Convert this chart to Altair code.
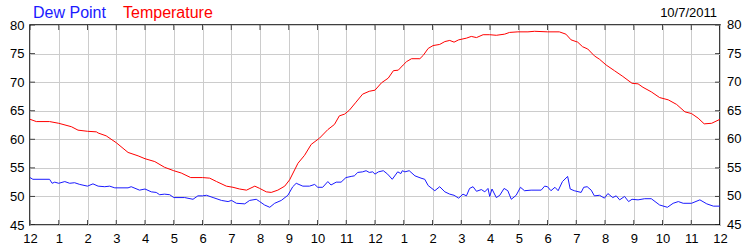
import altair as alt
import pandas as pd

# ---- data (hour of day, degrees F) ----
temp_hours = [0.0, 0.22, 0.68, 1.0, 1.44, 1.67, 2.0, 2.31, 2.37, 2.65, 3.0, 3.41, 3.76, 4.0, 4.34,
              4.68, 5.0, 5.26, 5.59, 6.0, 6.25, 6.49, 6.83, 7.06, 7.29, 7.53, 7.82, 7.99, 8.22,
              8.39, 8.62, 8.86, 9.03, 9.32, 9.55, 9.78, 10.07, 10.36, 10.59, 10.76, 10.94, 11.11,
              11.34, 11.57, 11.80, 12.0, 12.23, 12.46, 12.64, 12.81, 12.98, 13.10, 13.27, 13.56,
              13.68, 13.85, 14.02, 14.25, 14.43, 14.60, 14.75, 14.91, 15.18, 15.35, 15.53, 15.76,
              15.99, 16.22, 16.51, 16.68, 16.97, 17.32, 17.55, 18.0, 18.41, 18.64, 18.82, 19.05,
              19.22, 19.40, 19.63, 19.81, 20.04, 20.33, 20.62, 20.94, 21.15, 21.32, 21.61, 21.90,
              22.20, 22.49, 22.78, 23.01, 23.24, 23.45, 23.71, 24.0]
temp_values = [63.5, 63.1, 63.1, 62.8, 62.2, 61.6, 61.4, 61.3, 61.1, 60.6, 59.4, 57.7, 57.1, 56.6, 56.1,
               55.1, 54.5, 54.1, 53.3, 53.3, 53.2, 52.6, 51.8, 51.6, 51.3, 51.1, 51.8, 51.4, 50.8,
               50.7, 51.1, 51.8, 52.9, 55.8, 57.2, 59.1, 60.2, 61.7, 62.6, 64.1, 64.4, 65.1,
               66.5, 67.9, 68.4, 68.6, 69.9, 70.7, 72.0, 72.1, 73.0, 73.6, 74.1, 74.1,
               74.7, 75.9, 76.4, 76.6, 77.1, 77.3, 77.0, 77.4, 77.7, 78.0, 77.8, 78.3,
               78.3, 78.2, 78.4, 78.7, 78.8, 78.8, 78.9, 78.8, 78.8, 78.4, 77.4, 77.0,
               76.2, 75.8, 74.6, 74.0, 73.0, 72.0, 71.0, 69.8, 69.7, 69.1, 68.3, 67.3,
               66.9, 66.1, 64.8, 64.5, 63.7, 62.7, 62.8, 63.5]

dew_hours = [0.0, 0.10, 0.68, 0.77, 0.86, 1.0, 1.21, 1.38, 1.55, 1.73, 2.0, 2.19, 2.37, 2.60, 2.77,
             2.95, 3.41, 3.52, 3.81, 4.0, 4.22, 4.39, 4.51, 4.68, 4.86, 5.0, 5.38, 5.67, 5.84, 6.0,
             6.14, 6.37, 6.66, 6.89, 7.01, 7.18, 7.47, 7.64, 7.87, 7.99, 8.16, 8.34, 8.51, 8.74,
             8.97, 9.14, 9.26, 9.49, 9.72, 9.90, 10.01, 10.18, 10.36, 10.47, 10.65, 10.82, 10.99,
             11.17, 11.28, 11.40, 11.57, 11.69, 11.80, 11.92, 12.0, 12.12, 12.29, 12.44, 12.60,
             12.79, 12.90, 12.95, 13.04, 13.19, 13.39, 13.60, 13.73, 13.85, 14.08, 14.25, 14.43,
             14.60, 14.75, 14.91, 15.06, 15.18, 15.29, 15.41, 15.53, 15.70, 15.82, 15.93, 15.99,
             16.07, 16.22, 16.34, 16.49, 16.62, 16.74, 16.91, 17.06, 17.20, 17.43, 17.78, 17.90,
             18.0, 18.12, 18.26, 18.37, 18.52, 18.70, 18.79, 18.93, 19.17, 19.26, 19.38, 19.52,
             19.63, 19.81, 19.98, 20.10, 20.27, 20.39, 20.51, 20.68, 20.82, 20.94, 21.15, 21.38,
             21.61, 21.90, 22.17, 22.37, 22.55, 22.72, 23.01, 23.30, 23.54, 23.77, 24.0]
dew_values = [53.3, 53.0, 53.0, 52.3, 52.5, 52.3, 52.6, 52.3, 52.4, 52.1, 51.8, 52.2, 51.8, 51.7, 51.8,
              51.5, 51.5, 51.7, 51.1, 51.3, 50.8, 50.7, 50.3, 50.4, 50.3, 49.8, 49.8, 49.5, 50.1, 50.1,
              50.2, 49.8, 49.3, 49.1, 49.3, 48.8, 48.7, 49.3, 49.5, 49.1, 48.5, 48.1, 48.8, 49.3,
              50.2, 51.7, 52.3, 51.8, 51.8, 52.1, 51.6, 51.6, 52.6, 52.0, 52.5, 52.5, 53.3,
              53.5, 53.6, 54.2, 54.3, 54.5, 54.2, 54.3, 53.9, 54.3, 54.5, 53.9, 53.0,
              54.3, 54.0, 54.5, 54.3, 54.5, 53.6, 53.2, 53.0, 51.9, 51.0, 51.7, 50.8,
              50.4, 50.2, 49.7, 50.4, 50.1, 51.4, 51.7, 50.9, 51.2, 50.8, 51.4, 50.0,
              51.3, 49.8, 50.2, 51.4, 51.0, 49.5, 50.2, 51.6, 51.0, 51.1, 51.1, 51.8,
              51.7, 51.0, 51.6, 51.0, 52.6, 53.5, 51.3, 51.0, 50.7, 51.6, 51.7, 51.1,
              50.1, 50.2, 49.7, 50.5, 49.8, 50.1, 49.4, 50.0, 49.1, 49.5, 49.4, 49.6,
              49.6, 48.5, 48.1, 48.8, 49.1, 48.8, 48.8, 49.4, 48.7, 48.3, 48.3]

series_names = ["Dew Point", "Temperature"]
series_colors = ["#1a1aff", "#ff0000"]
x_ticks = list(range(0, 25))
y_ticks = [45, 50, 55, 60, 65, 70, 75, 80]
date_label = "10/7/2011"

df = pd.concat([
    pd.DataFrame({"hour": dew_hours, "value": dew_values, "series": "Dew Point"}),
    pd.DataFrame({"hour": temp_hours, "value": temp_values, "series": "Temperature"}),
])

W, H = 690, 200
FONT = "Liberation Sans"
xscale = alt.Scale(domain=[0, 24], nice=False, zero=False)
yscale = alt.Scale(domain=[45, 80], nice=False, zero=False)

x_axis = alt.Axis(values=x_ticks, title=None, grid=True, gridColor="#cccccc", gridWidth=1,
                  domain=False, ticks=False, labelPadding=7, labelFontSize=13, labelFont=FONT,
                  labelColor="#000000", labelOverlap=False, labelFlush=False,
                  labelExpr="datum.value % 12 == 0 ? '12' : '' + (datum.value % 12)")
y_axis = alt.Axis(values=y_ticks, title=None, grid=True, gridColor="#cccccc", gridWidth=1,
                  domain=False, ticks=False, labelPadding=6, labelFontSize=13, labelFont=FONT,
                  labelColor="#000000", labelOverlap=False, labelFlush=False)

lines = alt.Chart(df).mark_line(strokeWidth=1, clip=True).encode(
    x=alt.X("hour:Q", scale=xscale, axis=x_axis),
    y=alt.Y("value:Q", scale=yscale, axis=y_axis),
    color=alt.Color("series:N", scale=alt.Scale(domain=series_names, range=series_colors), legend=None),
    order="hour:Q",
)

xt = pd.DataFrame({"hour": x_ticks})
yt = pd.DataFrame({"value": y_ticks})

top_ticks = alt.Chart(xt).mark_tick(orient="vertical", size=10, thickness=1, color="black", clip=True).encode(
    x=alt.X("hour:Q", scale=xscale, axis=x_axis), y=alt.value(0))
bot_ticks = alt.Chart(xt).mark_tick(orient="vertical", size=10, thickness=1, color="black", clip=True).encode(
    x=alt.X("hour:Q", scale=xscale, axis=x_axis), y=alt.value(H))
left_ticks = alt.Chart(yt).mark_tick(orient="horizontal", size=10, thickness=1, color="black", clip=True).encode(
    y=alt.Y("value:Q", scale=yscale, axis=y_axis), x=alt.value(0))
right_ticks = alt.Chart(yt).mark_tick(orient="horizontal", size=10, thickness=1, color="black", clip=True).encode(
    y=alt.Y("value:Q", scale=yscale, axis=y_axis), x=alt.value(W))

right_labels = alt.Chart(yt).mark_text(align="left", baseline="middle", dx=7, fontSize=13,
                                       font=FONT, color="black").encode(
    y=alt.Y("value:Q", scale=yscale, axis=y_axis), x=alt.value(W), text="value:Q")

legend_df = pd.DataFrame({"series": series_names})
t_dew = alt.Chart(legend_df[legend_df.series == "Dew Point"]).mark_text(
    align="left", baseline="alphabetic", fontSize=16, font=FONT, color=series_colors[0]).encode(
    x=alt.value(3), y=alt.value(-7), text="series:N")
t_temp = alt.Chart(legend_df[legend_df.series == "Temperature"]).mark_text(
    align="left", baseline="alphabetic", fontSize=16, font=FONT, color=series_colors[1]).encode(
    x=alt.value(93), y=alt.value(-7), text="series:N")
t_date = alt.Chart(pd.DataFrame({"d": [date_label]})).mark_text(
    align="right", baseline="alphabetic", fontSize=13, font=FONT, color="black").encode(
    x=alt.value(687), y=alt.value(-8), text="d:N")

chart = alt.layer(lines, top_ticks, bot_ticks, left_ticks, right_ticks, right_labels,
                  t_dew, t_temp, t_date).properties(
    width=W, height=H,
    autosize=alt.AutoSizeParams(type="none"),
    padding={"left": 30, "top": 25, "right": 30, "bottom": 25},
    background="white",
).configure_view(stroke="black", strokeWidth=1.5
).configure_axis(labelOverlap=False, labelFlush=False, labelBound=False)

chart.save("out.html", embed_options={"renderer": "svg", "actions": False})
